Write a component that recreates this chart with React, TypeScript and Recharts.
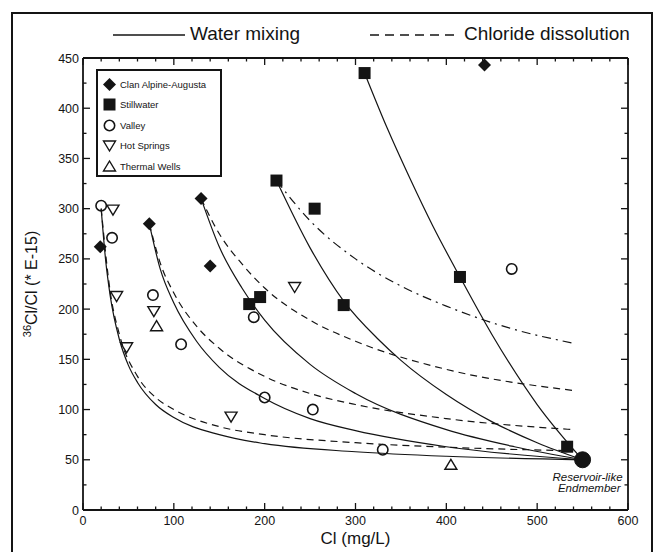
import React from 'react';
import { ComposedChart, Line, Scatter, XAxis, YAxis, ReferenceDot, Label } from 'recharts';

// ---- ticks ----
const xTicks = [0, 20, 40, 60, 80, 100, 120, 140, 160, 180, 200, 220, 240, 260, 280, 300, 320, 340, 360, 380, 400, 420, 440, 460, 480, 500, 520, 540, 560, 580, 600];
const xLabelTicks = [0, 100, 200, 300, 400, 500, 600];
const yTicks = [0, 25, 50, 75, 100, 125, 150, 175, 200, 225, 250, 275, 300, 325, 350, 375, 400, 425, 450];
const yLabelTicks = [0, 50, 100, 150, 200, 250, 300, 350, 400, 450];

// ---- samples ----
const clanAlpine = [
  { x: 19, y: 262 }, { x: 73, y: 285 }, { x: 130, y: 310 }, { x: 140, y: 243 }, { x: 442, y: 443 },
];
const stillwater = [
  { x: 310, y: 435 }, { x: 213, y: 328 }, { x: 255, y: 300 }, { x: 183, y: 205 }, { x: 195, y: 212 },
  { x: 287, y: 204 }, { x: 415, y: 232 }, { x: 533, y: 63 },
];
const valley = [
  { x: 20, y: 303 }, { x: 32, y: 271 }, { x: 77, y: 214 }, { x: 108, y: 165 }, { x: 188, y: 192 },
  { x: 200, y: 112 }, { x: 253, y: 100 }, { x: 330, y: 60 }, { x: 472, y: 240 },
];
const hotSprings = [
  { x: 33, y: 299 }, { x: 37, y: 213 }, { x: 48, y: 162 }, { x: 78, y: 198 }, { x: 163, y: 93 }, { x: 233, y: 222 },
];
const thermalWells = [{ x: 81, y: 183 }, { x: 405, y: 45 }];
const endmember = [{ x: 550, y: 50 }];

// ---- model curves ----
const mixA = [
  { x: 20, y: 300 }, { x: 25, y: 248 }, { x: 30, y: 213 }, { x: 40, y: 170 }, { x: 50, y: 144 }, { x: 60, y: 127 },
  { x: 80, y: 105 }, { x: 100, y: 92 }, { x: 150, y: 75 }, { x: 200, y: 66 }, { x: 300, y: 58 }, { x: 400, y: 53.5 }, { x: 550, y: 50 },
];
const disA = [
  { x: 20, y: 300 }, { x: 30, y: 217 }, { x: 40, y: 175 }, { x: 60, y: 133 }, { x: 80, y: 112 }, { x: 100, y: 100 },
  { x: 150, y: 83 }, { x: 200, y: 75 }, { x: 300, y: 67 }, { x: 400, y: 62.5 }, { x: 540, y: 59 },
];
const mixB = [
  { x: 73, y: 285 }, { x: 85, y: 240 }, { x: 100, y: 206 }, { x: 125, y: 168 }, { x: 150, y: 142 }, { x: 200, y: 111 },
  { x: 250, y: 91 }, { x: 300, y: 79 }, { x: 400, y: 63 }, { x: 550, y: 50 },
];
const disB = [
  { x: 73, y: 285 }, { x: 85, y: 246 }, { x: 100, y: 216 }, { x: 125, y: 183 }, { x: 150, y: 161 }, { x: 200, y: 133 },
  { x: 250, y: 116 }, { x: 300, y: 105 }, { x: 400, y: 91 }, { x: 540, y: 80 },
];
const mixC = [
  { x: 130, y: 310 }, { x: 150, y: 262 }, { x: 175, y: 221 }, { x: 200, y: 189 }, { x: 250, y: 145 }, { x: 300, y: 116 },
  { x: 400, y: 80 }, { x: 475, y: 63 }, { x: 550, y: 50 },
];
const disC = [
  { x: 130, y: 310 }, { x: 150, y: 275 }, { x: 175, y: 245 }, { x: 200, y: 221 }, { x: 250, y: 189 }, { x: 300, y: 168 },
  { x: 400, y: 140 }, { x: 540, y: 119 },
];
const mixD = [
  { x: 213, y: 328 }, { x: 250, y: 261 }, { x: 287, y: 208 }, { x: 325, y: 170 }, { x: 350, y: 149 }, { x: 400, y: 115 },
  { x: 450, y: 88 }, { x: 500, y: 67 }, { x: 550, y: 50 },
];
const disD = [
  { x: 213, y: 328 }, { x: 250, y: 288 }, { x: 300, y: 250 }, { x: 350, y: 223 }, { x: 400, y: 203 }, { x: 470, y: 181 }, { x: 540, y: 166 },
];
const mixE = [
  { x: 310, y: 435 }, { x: 335, y: 380 }, { x: 360, y: 330 }, { x: 385, y: 283 }, { x: 415, y: 232 }, { x: 450, y: 175 },
  { x: 500, y: 105 }, { x: 550, y: 50 },
];

const legendNames = ['Clan Alpine-Augusta', 'Stillwater', 'Valley', 'Hot Springs', 'Thermal Wells'];
const lineLegend = ['Water mixing', 'Chloride dissolution'];

const FONT = '"Liberation Sans", Arial, sans-serif';
const INK = '#141414';

// ---- shapes ----
const Diamond = (p: any) => {
  const { cx, cy } = p;
  const s = 6.5;
  return <polygon points={`${cx},${cy - s} ${cx + s},${cy} ${cx},${cy + s} ${cx - s},${cy}`} fill={INK} />;
};
const Square = (p: any) => {
  const { cx, cy } = p;
  return <rect x={cx - 6} y={cy - 6} width={12} height={12} fill={INK} />;
};
const OpenCircle = (p: any) => {
  const { cx, cy } = p;
  return <circle cx={cx} cy={cy} r={5.2} fill="none" stroke={INK} strokeWidth={1.6} />;
};
const DownTri = (p: any) => {
  const { cx, cy } = p;
  return <polygon points={`${cx - 6},${cy - 4.5} ${cx + 6},${cy - 4.5} ${cx},${cy + 5.5}`} fill="none" stroke={INK} strokeWidth={1.4} />;
};
const UpTri = (p: any) => {
  const { cx, cy } = p;
  return <polygon points={`${cx - 6},${cy + 4.5} ${cx + 6},${cy + 4.5} ${cx},${cy - 5.5}`} fill="none" stroke={INK} strokeWidth={1.4} />;
};
const shapes = [Diamond, Square, OpenCircle, DownTri, UpTri];

// ---- ticks ----
const BottomTick = (p: any) => {
  const { x, y, payload } = p;
  const major = xLabelTicks.includes(payload.value);
  return (
    <g>
      <line x1={x} y1={y} x2={x} y2={y - (major ? 7 : 3.5)} stroke={INK} strokeWidth={1.3} />
      {major && (
        <text x={x} y={y + 15} textAnchor="middle" fontFamily={FONT} fontSize={12.5} fill={INK}>{payload.value}</text>
      )}
    </g>
  );
};
const TopTick = (p: any) => {
  const { x, y, payload } = p;
  const major = xLabelTicks.includes(payload.value);
  return <line x1={x} y1={y} x2={x} y2={y + (major ? 7 : 3.5)} stroke={INK} strokeWidth={1.3} />;
};
const LeftTick = (p: any) => {
  const { x, y, payload } = p;
  const major = yLabelTicks.includes(payload.value);
  return (
    <g>
      <line x1={x} y1={y} x2={x + (major ? 7 : 3.5)} y2={y} stroke={INK} strokeWidth={1.3} />
      {major && (
        <text x={x - 4} y={y + 4.5} textAnchor="end" fontFamily={FONT} fontSize={12.5} fill={INK}>{payload.value}</text>
      )}
    </g>
  );
};
const RightTick = (p: any) => {
  const { x, y, payload } = p;
  const major = yLabelTicks.includes(payload.value);
  return <line x1={x} y1={y} x2={x - (major ? 7 : 3.5)} y2={y} stroke={INK} strokeWidth={1.3} />;
};

const EndLabel = (p: any) => {
  const vb = p.viewBox || {};
  const cx = (vb.x || 0) + (vb.width || 0) / 2;
  const cy = (vb.y || 0) + (vb.height || 0) / 2;
  return (
    <text fontFamily={FONT} fontSize={11.5} fontStyle="italic" fill={INK} textAnchor="end">
      <tspan x={cx + 40} y={cy + 21}>Reservoir-like</tspan>
      <tspan x={cx + 38} y={cy + 32}>Endmember</tspan>
    </text>
  );
};

const PLOT_L = 83;
const PLOT_R = 628;
const PLOT_T = 58;
const PLOT_B = 510;
const W = 659;
const H = 552;

export default function App() {
  const curves = [
    { d: mixA, dash: undefined }, { d: disA, dash: '7 5' },
    { d: mixB, dash: undefined }, { d: disB, dash: '7 5' },
    { d: mixC, dash: undefined }, { d: disC, dash: '7 5' },
    { d: mixD, dash: undefined }, { d: disD, dash: '9 5 2 5' },
    { d: mixE, dash: undefined },
  ];
  const series = [clanAlpine, stillwater, valley, hotSprings, thermalWells];
  return (
    <div style={{ position: 'absolute', left: 0, top: 0, width: W, height: H, overflow: 'hidden', background: '#fff' }}>
      <div style={{ position: 'absolute', left: 11, top: 12, width: 638, height: 600, border: `2px solid ${INK}` }} />
      {/* line-style legend */}
      <div style={{ position: 'absolute', left: 0, top: 23, width: W, height: 24, fontFamily: FONT, fontSize: 19, color: INK }}>
        <svg style={{ position: 'absolute', left: 113, top: 10 }} width={72} height={4}>
          <line x1={0} y1={2} x2={72} y2={2} stroke={INK} strokeWidth={1.3} />
        </svg>
        <span style={{ position: 'absolute', left: 190, top: 0, whiteSpace: 'nowrap' }}>{lineLegend[0]}</span>
        <svg style={{ position: 'absolute', left: 370, top: 10 }} width={86} height={4}>
          <line x1={0} y1={2} x2={86} y2={2} stroke={INK} strokeWidth={1.3} strokeDasharray="9 6" />
        </svg>
        <span style={{ position: 'absolute', left: 464, top: 0, whiteSpace: 'nowrap' }}>{lineLegend[1]}</span>
      </div>
      <div style={{ position: 'absolute', left: 0, top: 0 }}>
        <ComposedChart
          width={W}
          height={H}
          margin={{ top: PLOT_T - 1, right: W - PLOT_R - 1, bottom: H - PLOT_B - 30, left: PLOT_L - 40 }}
        >
          <XAxis
            xAxisId="b"
            type="number"
            dataKey="x"
            domain={[0, 600]}
            ticks={xTicks}
            interval={0}
            allowDataOverflow
            height={30}
            tickSize={0}
            tickMargin={0}
            tickLine={false}
            axisLine={{ stroke: INK, strokeWidth: 1.8 }}
            tick={<BottomTick />}
          >
            <Label
              content={(p: any) => {
                const vb = p.viewBox;
                return (
                  <text x={vb.x + vb.width / 2} y={vb.y + 34} textAnchor="middle" fontFamily={FONT} fontSize={17} fill={INK}>
                    Cl (mg/L)
                  </text>
                );
              }}
            />
          </XAxis>
          <XAxis
            xAxisId="t"
            orientation="top"
            type="number"
            dataKey="x"
            domain={[0, 600]}
            ticks={xTicks}
            interval={0}
            allowDataOverflow
            height={1}
            tickSize={0}
            tickMargin={0}
            tickLine={false}
            axisLine={{ stroke: INK, strokeWidth: 1.8 }}
            tick={<TopTick />}
          />
          <YAxis
            yAxisId="l"
            type="number"
            dataKey="y"
            domain={[0, 450]}
            ticks={yTicks}
            interval={0}
            allowDataOverflow
            width={40}
            tickSize={0}
            tickMargin={0}
            tickLine={false}
            axisLine={{ stroke: INK, strokeWidth: 1.8 }}
            tick={<LeftTick />}
          >
            <Label
              content={(p: any) => {
                const vb = p.viewBox;
                const cx = vb.x - 6;
                const cy = vb.y + vb.height / 2;
                return (
                  <text transform={`translate(${cx},${cy}) rotate(-90)`} textAnchor="middle" fontFamily={FONT} fontSize={16} fill={INK}>
                    <tspan fontSize={11} dy={-6}>36</tspan>
                    <tspan dy={6}>Cl/Cl (* E-15)</tspan>
                  </text>
                );
              }}
            />
          </YAxis>
          <YAxis
            yAxisId="r"
            orientation="right"
            type="number"
            dataKey="y"
            domain={[0, 450]}
            ticks={yTicks}
            interval={0}
            allowDataOverflow
            width={1}
            tickSize={0}
            tickMargin={0}
            tickLine={false}
            axisLine={{ stroke: INK, strokeWidth: 1.8 }}
            tick={<RightTick />}
          />
          {curves.map((c, i) => (
            <Line
              key={`c${i}`}
              xAxisId="b"
              yAxisId="l"
              data={c.d}
              dataKey="y"
              type="monotone"
              stroke={INK}
              strokeWidth={1.2}
              strokeDasharray={c.dash}
              dot={false}
              activeDot={false}
              legendType="none"
              isAnimationActive={false}
            />
          ))}
          {series.map((s, i) => (
            <Scatter
              key={legendNames[i]}
              name={legendNames[i]}
              xAxisId="b"
              yAxisId="l"
              data={s}
              shape={shapes[i]}
              isAnimationActive={false}
            />
          ))}
          <ReferenceDot
            xAxisId="b"
            yAxisId="l"
            x={endmember[0].x}
            y={endmember[0].y}
            r={8}
            fill={INK}
            stroke={INK}
            label={<EndLabel />}
          />
        </ComposedChart>
      </div>
      {/* symbol legend */}
      <div style={{ position: 'absolute', left: 96, top: 69, width: 126, height: 108, boxSizing: 'border-box', border: `2px solid ${INK}`, padding: '3px 0 0 4px', background: '#fff', fontFamily: FONT, fontSize: 9.5, color: INK }}>
        {legendNames.map((n, i) => {
          const S = shapes[i];
          return (
            <div key={n} style={{ display: 'flex', alignItems: 'center', height: 20.5, whiteSpace: 'nowrap' }}>
              <svg width={15} height={15} style={{ marginRight: 3 }}>
                <S cx={7.5} cy={7.5} />
              </svg>
              <span>{n}</span>
            </div>
          );
        })}
      </div>
    </div>
  );
}
